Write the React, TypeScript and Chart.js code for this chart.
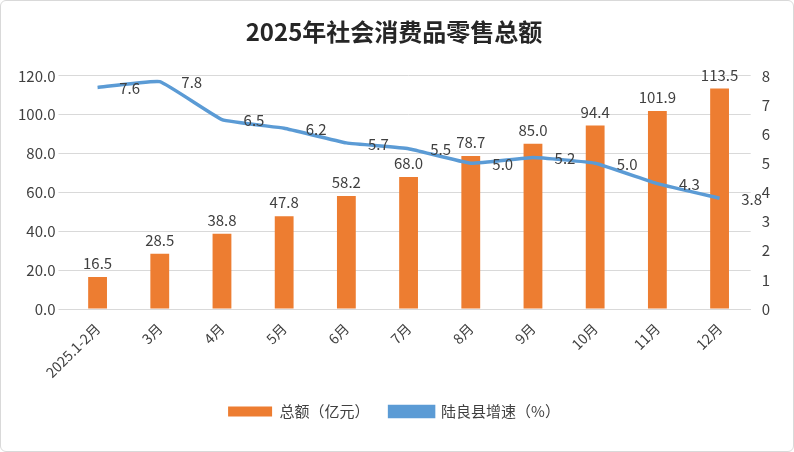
import Chart from 'chart.js/auto';
import React, { useEffect, useRef } from 'react';

const categories = ['2025.1-2月', '3月', '4月', '5月', '6月', '7月', '8月', '9月', '10月', '11月', '12月'];
const totals = [16.5, 28.5, 38.8, 47.8, 58.2, 68.0, 78.7, 85.0, 94.4, 101.9, 113.5];
const growth = [7.6, 7.8, 6.5, 6.2, 5.7, 5.5, 5.0, 5.2, 5.0, 4.3, 3.8];

const FONT = '"Noto Sans CJK SC", "Noto Sans", sans-serif';

// value labels above bars, to the right of line points
const labelPlugin = {
  id: 'valueLabels',
  afterDatasetsDraw(chart: any) {
    const ctx = chart.ctx;
    ctx.save();
    ctx.font = `15px ${FONT}`;
    ctx.fillStyle = '#404040';
    ctx.textAlign = 'center';
    chart.getDatasetMeta(0).data.forEach((el: any, i: number) => {
      ctx.textBaseline = 'bottom';
      ctx.fillText(totals[i].toFixed(1), el.x, el.y - 6);
    });
    chart.getDatasetMeta(1).data.forEach((el: any, i: number) => {
      ctx.textBaseline = 'middle';
      ctx.fillText(growth[i].toFixed(1), el.x + 32, el.y + 1);
    });
    ctx.restore();
  },
};

export default function App() {
  const ref = useRef<HTMLCanvasElement>(null);

  useEffect(() => {
    const chart = new Chart(ref.current!, {
      data: {
        labels: categories,
        datasets: [
          {
            type: 'bar',
            label: '总额（亿元）',
            data: totals,
            backgroundColor: '#ED7D31',
            barPercentage: 0.55,
            categoryPercentage: 0.55,
            yAxisID: 'y',
            order: 2,
          },
          {
            type: 'line',
            label: '陆良县增速（%）',
            data: growth,
            borderColor: '#5B9BD5',
            backgroundColor: '#5B9BD5',
            borderWidth: 3.5,
            pointRadius: 0,
            tension: 0.1,
            yAxisID: 'y1',
            order: 1,
          },
        ],
      },
      options: {
        animation: false,
        responsive: false,
        layout: { padding: { left: 14, right: 20, top: 12, bottom: 22 } },
        plugins: {
          title: {
            display: true,
            text: '2025年社会消费品零售总额',
            color: '#262626',
            font: { family: FONT, size: 24, weight: 'bold' },
            padding: { top: 4, bottom: 30 },
          },
          legend: {
            position: 'bottom',
            labels: {
              color: '#404040',
              font: { family: FONT, size: 15 },
              boxWidth: 44,
              boxHeight: 10,
              padding: 20,
              sort: (a: any, b: any) => a.datasetIndex - b.datasetIndex,
            },
          },
          tooltip: { enabled: false },
        },
        scales: {
          x: {
            grid: { display: false },
            border: { color: '#d9d9d9' },
            ticks: { color: '#404040', font: { family: FONT, size: 14 }, maxRotation: 45, minRotation: 45 },
          },
          y: {
            min: 0,
            max: 120,
            ticks: { stepSize: 20, color: '#404040', font: { family: FONT, size: 15 }, callback: (v: any) => Number(v).toFixed(1) },
            grid: { color: '#d9d9d9' },
            border: { display: false },
          },
          y1: {
            position: 'right',
            min: 0,
            max: 8,
            ticks: { stepSize: 1, color: '#404040', font: { family: FONT, size: 15 } },
            grid: { display: false },
            border: { display: false },
          },
        },
      },
      plugins: [labelPlugin],
    } as any);
    return () => chart.destroy();
  }, []);

  return (
    <div style={{ position: 'fixed', left: 0, top: 0, width: 792, height: 450, border: '1px solid #d9d9d9', borderRadius: 6, background: '#fff' }}>
      <canvas ref={ref} width={792} height={450} />
    </div>
  );
}
